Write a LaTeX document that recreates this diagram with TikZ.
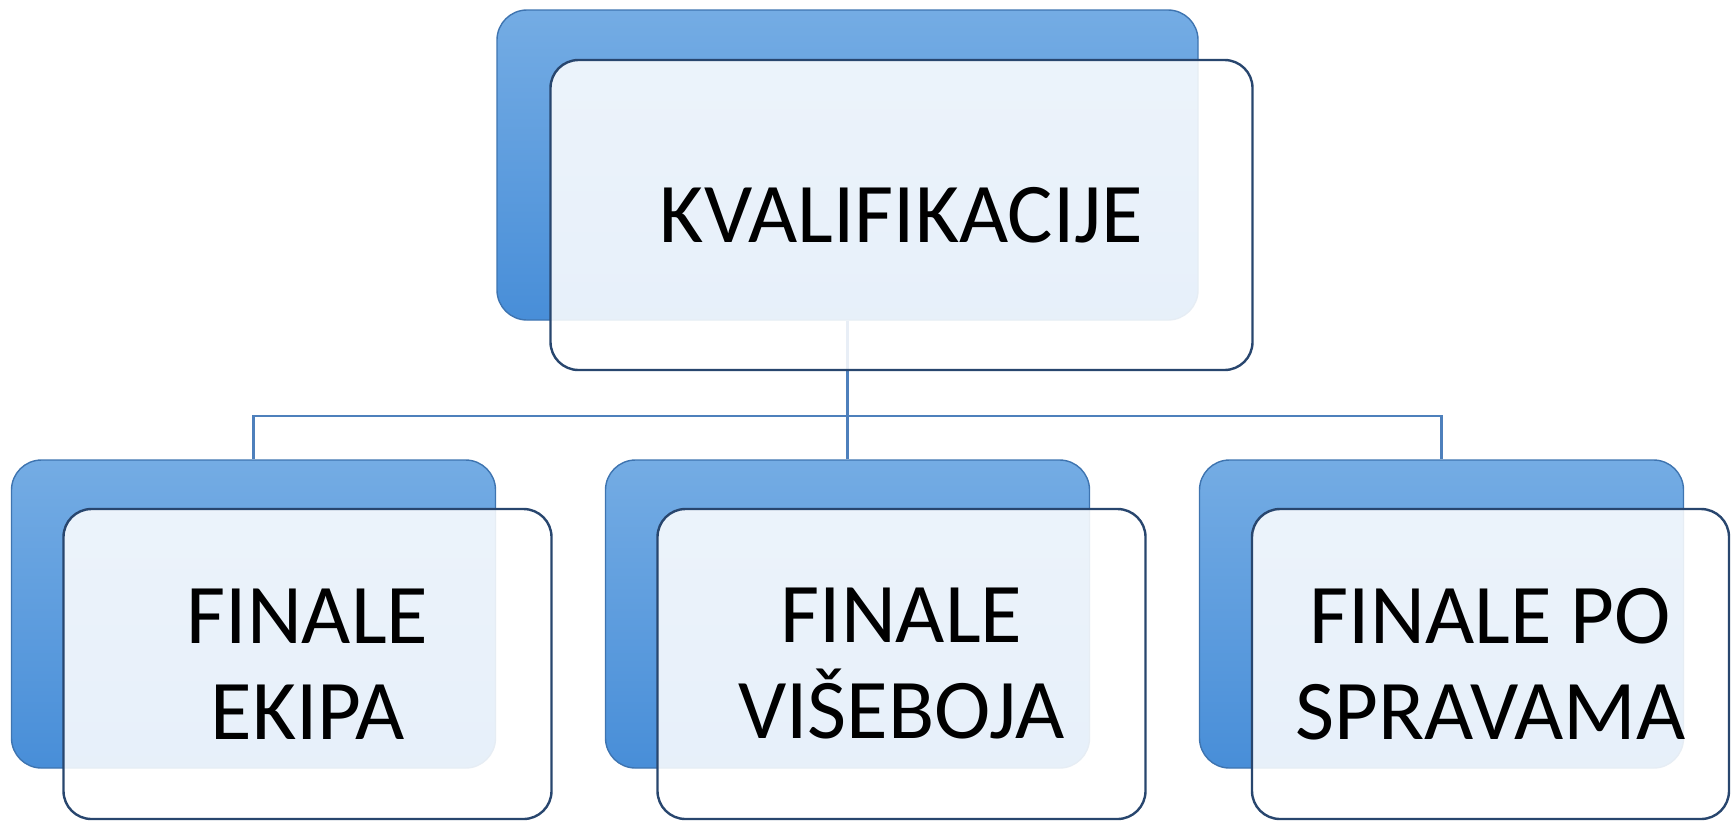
\documentclass[tikz,border=0pt]{standalone}
\usepackage{fontspec}
\setmainfont{Carlito}

\definecolor{boxtop}{RGB}{116,172,228}
\definecolor{boxbottom}{RGB}{72,142,216}
\definecolor{boxline}{RGB}{62,116,176}
\definecolor{glassline}{RGB}{40,70,110}
\definecolor{linkline}{RGB}{78,128,188}

\begin{document}
\begin{tikzpicture}[x=1pt,y=-1pt,level distance=449pt,
	edge from parent/.style={draw=linkline,line width=2.2pt},
	edge from parent path={(\tikzparentnode.south) -- ++(0,-95pt) -| (\tikzchildnode.north)}]
	\tikzstyle{level 1}=[sibling distance=594pt]
	\tikzstyle{backbox}=[rectangle,rounded corners=30pt,draw=boxline,line width=1.4pt,
		top color=boxtop,bottom color=boxbottom,inner sep=0pt,
		minimum width=484pt,minimum height=308pt]
	\tikzstyle{glassbox}=[rectangle,rounded corners=28pt,draw=glassline,line width=2.4pt,
		fill=white,fill opacity=0.87,text opacity=1,inner sep=0pt,align=center,
		minimum width=488pt,minimum height=310pt,font=\fontsize{85}{96}\selectfont]
	\useasboundingbox (0,0) rectangle (1731,823);
	\node[backbox,minimum width=701pt,minimum height=310pt] (kval) at (847.5,165) {}
		child {node[backbox] (ekipa) {}}
		child {node[backbox] (viseboj) {}}
		child {node[backbox] (sprave) {}};
	\node[glassbox,minimum width=702pt] (kvaltxt) at ([shift={(54pt,-50pt)}]kval) {KVALIFIKACIJE};
	\node[glassbox] (ekipatxt) at ([shift={(54pt,-50pt)}]ekipa) {FINALE\\EKIPA};
	\node[glassbox] (visebojtxt) at ([shift={(54pt,-50pt)}]viseboj) {FINALE\\VIŠEBOJA};
	\node[glassbox,minimum width=477pt] (spravetxt) at ([shift={(49pt,-50pt)}]sprave) {FINALE PO\\SPRAVAMA};
\end{tikzpicture}
\end{document}
